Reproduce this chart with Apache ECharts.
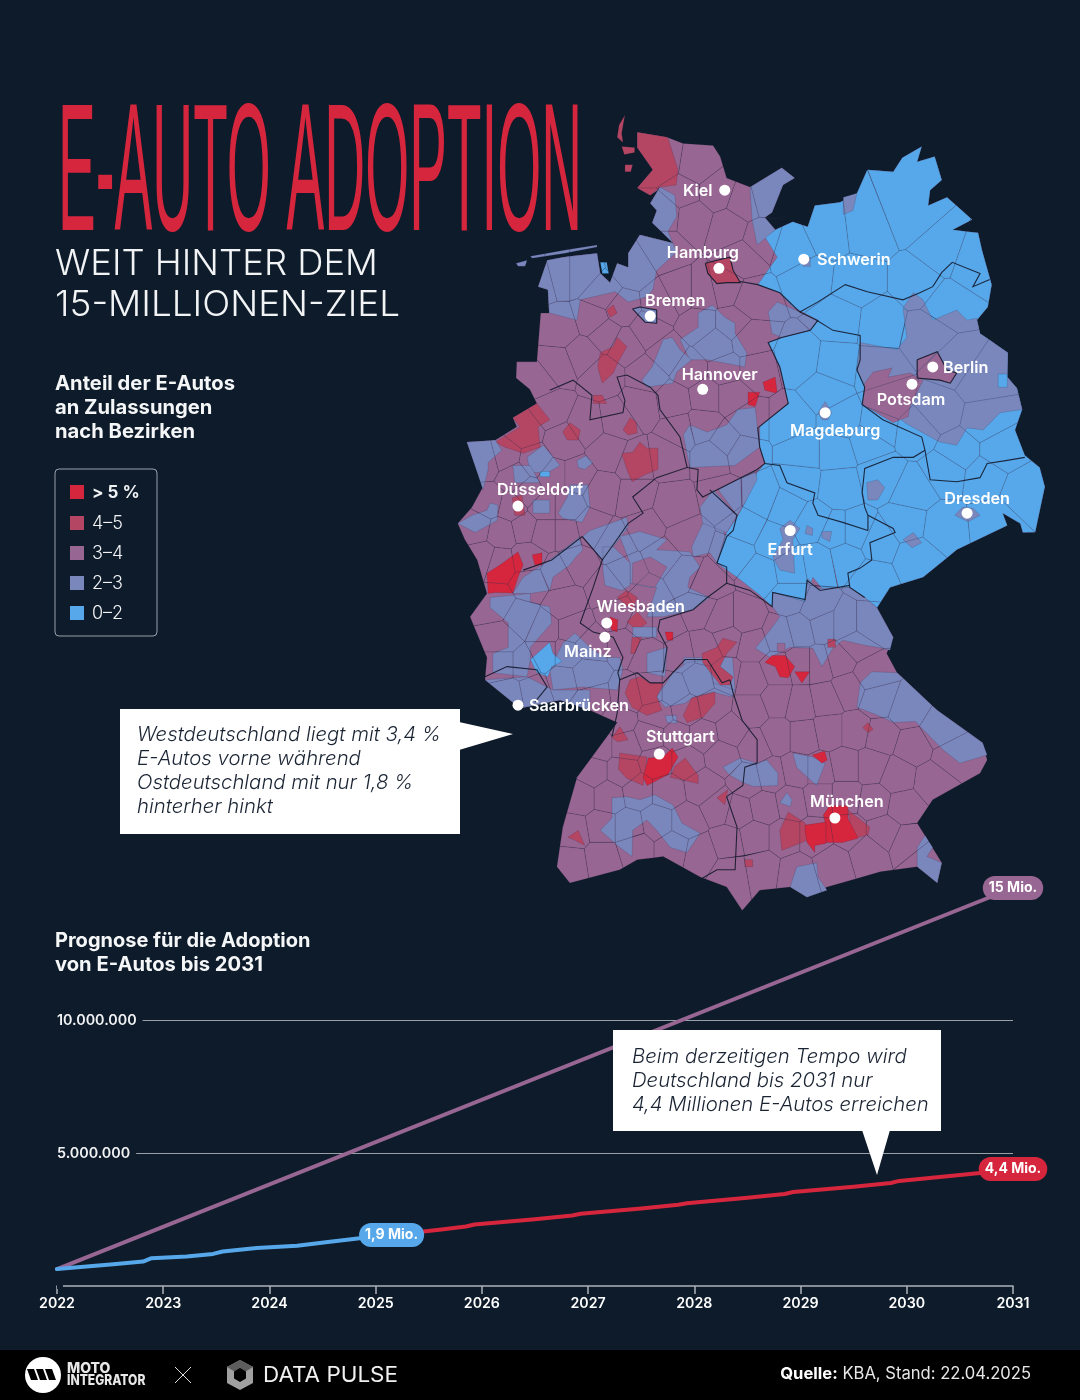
<!DOCTYPE html>
<html>
<head>
<meta charset="utf-8">
<style>html,body{margin:0;background:#0d1b2a}#c{width:1080px;height:1400px}</style>
<script src="https://cdn.jsdelivr.net/npm/echarts@6/dist/echarts.min.js"></script>
</head>
<body>
<div id="c"></div>
<script>
// Farben der Klassen (Legende und Karte)
const klassenFarben = ['#d6263d', '#b54663', '#986692', '#7a87bd', '#56a8ea'];
const klassenNamen = ['> 5 %', '4–5', '3–4', '2–3', '0–2'];

// Prognose, Werte in Mio. aus dem Bild gelesen
const jahreIst = [2022, 2022.53, 2022.81, 2022.89, 2023.22, 2023.47, 2023.56, 2023.88, 2024.26, 2024.57, 2024.85, 2025.15];
const werteIst = [0.64, 0.82, 0.92, 1.05, 1.11, 1.21, 1.30, 1.43, 1.52, 1.67, 1.80, 1.92];
const jahrePrognose = [2025.15, 2025.6, 2025.85, 2025.93, 2026.5, 2026.85, 2026.93, 2027.5, 2027.85, 2027.93, 2028.5, 2028.85, 2028.93, 2029.5, 2029.85, 2029.93, 2030.88, 2031];
const wertePrognose = [1.92, 2.12, 2.24, 2.32, 2.52, 2.66, 2.72, 2.92, 3.06, 3.12, 3.33, 3.47, 3.54, 3.74, 3.88, 3.96, 4.33, 4.41];
const jahreZiel = [2022, 2031];
const werteZiel = [0.64, 15];
const yTicks = {5000000: '5.000.000', 10000000: '10.000.000'};

// Städte: Lon/Lat wie auf der Karte
const staedte = ['Kiel', 'Hamburg', 'Schwerin', 'Bremen', 'Hannover', 'Berlin', 'Potsdam', 'Magdeburg', 'Düsseldorf', 'Dresden', 'Erfurt', 'Wiesbaden', 'Mainz', 'Saarbrücken', 'Stuttgart', 'München'];
const staedteLon = [10.19, 10.10, 11.41, 9.04, 9.85, 13.40, 13.08, 11.74, 7.0, 13.93, 11.20, 8.37, 8.34, 7.0, 9.18, 11.89];
const staedteLat = [54.32, 53.55, 53.64, 53.08, 52.36, 52.58, 52.41, 52.13, 51.21, 51.14, 50.97, 50.06, 49.92, 49.25, 48.77, 48.14];
const labelVersatz = [[-27, 1], [-16, -15], [50, 1], [25, -15], [17, -14], [33, 1], [-1, 16], [10, 18], [22, -16], [10, -14], [0, 20], [34, -16], [-17, 15], [61, 1], [21, -17], [12, -16]];

// Umriss Deutschland, Lon/Lat-Paare
const umriss = [8.84,54.89, 9.30,54.84, 9.55,54.78, 10.01,54.76, 10.12,54.65, 10.22,54.44, 10.58,54.35, 11.07,54.54, 11.27,54.44, 11.09,54.37, 10.92,54.10, 10.81,54.05, 10.97,53.93, 11.24,54.01, 11.47,53.96, 11.58,54.17, 11.97,54.20, 12.23,54.29, 12.39,54.52, 12.79,54.50, 12.93,54.64, 13.23,54.75, 13.16,54.60, 13.43,54.65, 13.54,54.42, 13.36,54.32, 13.33,54.17, 13.62,54.25, 14.01,54.03, 13.71,53.93, 14.10,53.90, 14.16,53.73, 14.31,53.39, 14.25,53.17, 14.08,53.04, 14.13,52.91, 14.56,52.72, 14.55,52.48, 14.70,52.37, 14.78,52.16, 14.67,51.96, 14.82,51.71, 15.05,51.59, 15.13,51.40, 14.98,50.95, 14.79,50.95, 14.75,51.04, 14.48,51.14, 14.55,51.02, 13.77,50.78, 13.25,50.51, 12.74,50.41, 12.54,50.21,
  12.79,49.92, 12.69,49.76, 12.85,49.57, 13.47,49.20, 14.17,48.88, 14.24,48.71, 14.13,48.58, 13.40,48.32, 13.16,48.09, 13.54,47.70, 13.47,47.50, 13.16,47.66, 12.59,47.61, 11.77,47.46, 11.46,47.36, 11.20,47.46, 10.73,47.43, 10.46,47.23, 10.22,47.46, 9.81,47.56, 9.24,47.76, 8.84,47.73, 8.57,47.63, 7.80,47.50, 7.60,47.66, 7.69,48.05, 7.91,48.54, 8.37,48.94, 8.53,49.08, 8.11,49.20, 7.65,49.30, 7.03,49.22, 6.49,49.50, 6.52,49.72, 6.26,50.12, 6.52,50.35, 6.37,50.68, 6.18,50.88, 6.07,51.04, 6.29,51.20, 6.46,51.40, 6.21,51.84, 6.65,51.86, 6.98,51.99, 6.92,52.08, 7.29,52.22, 7.18,52.36, 6.97,52.47, 6.98,52.63, 7.29,52.63, 7.35,53.11, 7.48,53.11, 7.46,53.34, 7.31,53.37, 7.45,53.63, 7.69,53.66, 8.22,53.70, 8.27,53.50, 8.42,53.41, 8.53,53.60, 8.70,53.56, 8.70,53.70, 8.88,53.88, 9.39,53.80, 9.07,54.00, 9.14,54.12, 9.04,54.19, 9.19,54.35, 9.04,54.27, 8.84,54.34, 9.08,54.52, 8.84,54.74];

// Ostdeutschland in 0-2: Küste plus Innengrenze
const ostGrenze = [12.35,50.31, 12.12,50.41, 11.69,50.40, 11.55,50.51, 11.43,50.27, 10.93,50.36, 10.93,50.22, 10.70,50.35, 10.38,50.51, 10.07,50.65, 10.22,50.95, 10.38,51.10, 10.50,51.24, 10.69,51.54, 10.81,51.63, 10.73,51.79, 10.73,51.99, 11.17,52.22, 11.04,52.58, 10.86,52.82, 11.07,52.87, 11.51,52.94, 11.63,53.04, 11.24,53.17, 11.04,53.31, 10.70,53.39, 11.00,53.66, 10.81,53.86];

// Flächen gleicher Klasse: [Anteil in %, Umriss], spätere liegen oben
const flaechenNord = [
  [3.4, umriss],
  [1.6, umriss.slice(24, 106).concat(ostGrenze)],
  [2.6, [7.48,53.11, 7.46,53.34, 7.31,53.37, 7.45,53.63, 7.69,53.66, 8.22,53.70, 8.27,53.50, 8.42,53.41, 8.53,53.60, 8.70,53.56, 8.70,53.70, 8.88,53.88, 9.39,53.80, 9.45,53.71, 9.14,53.53, 9.08,53.34, 8.99,53.27, 8.70,53.22, 8.50,53.32, 7.96,53.24, 7.91,53.04, 7.49,53.11]],
  [1.6, [8.27,53.61, 8.37,53.61, 8.40,53.50, 8.30,53.50]],
  [2.6, [9.19,54.35, 9.42,54.27, 9.45,54.06, 9.31,53.91, 9.39,53.80, 9.07,54.00, 9.14,54.12, 9.04,54.19]],
  [4.4, [8.84,54.89, 9.31,54.84, 9.47,54.52, 9.44,54.37, 9.19,54.35, 9.04,54.27, 8.84,54.34, 9.08,54.52, 8.84,54.74]],
  [4.4, [8.65,55.06, 8.56,54.96, 8.53,54.84, 8.62,54.79, 8.60,54.88]],
  [4.4, [8.60,54.75, 8.80,54.74, 8.80,54.69, 8.64,54.67]],
  [4.4, [8.65,54.57, 8.77,54.57, 8.74,54.50, 8.65,54.50]],
  [2.6, [6.97,53.60, 7.14,53.63, 7.11,53.57, 7.00,53.57]],
  [2.6, [7.19,53.67, 7.73,53.73, 8.22,53.78, 8.22,53.76, 7.73,53.70, 7.22,53.65]],
  [2.6, [10.58,54.35, 11.07,54.54, 11.27,54.44, 11.09,54.37, 10.92,54.10, 10.81,54.05, 10.97,53.93, 10.69,53.78, 10.61,54.03]],
  [2.6, [12.02,54.25, 12.23,54.29, 12.17,54.12, 12.02,54.08]],
  [2.6, [11.35,53.65, 11.51,53.66, 11.51,53.57, 11.40,53.57]],
  [2.6, [10.86,53.12, 11.00,53.22, 11.35,53.12, 11.63,53.04, 11.51,52.94, 11.07,52.87, 10.92,52.91]],
  [4.4, [9.89,53.60, 10.07,53.63, 10.27,53.66, 10.32,53.53, 10.43,53.41, 10.22,53.41, 10.07,53.40, 9.93,53.50]],
  [2.6, [8.88,53.17, 9.14,53.14, 9.14,53.01, 8.96,53.02, 8.77,53.15]],
  [2.6, [9.50,52.85, 9.78,52.97, 9.78,53.11, 10.0,53.19, 10.19,53.07, 10.35,53.01, 10.35,52.91, 10.53,52.72, 10.50,52.58, 9.92,52.65, 9.65,52.65]],
  [2.6, [9.07,52.58, 9.24,52.85, 9.38,52.87, 9.50,52.75, 9.68,52.65, 9.45,52.53, 9.39,52.42, 8.99,52.38, 8.91,52.45]],
  [4.4, [8.37,53.14, 8.47,53.19, 8.53,53.11, 8.42,53.07]],
  [4.4, [8.27,52.72, 8.47,52.78, 8.53,52.87, 8.68,52.78, 8.54,52.62, 8.47,52.52, 8.30,52.42, 8.23,52.58]],
  [6.0, [10.78,52.43, 10.97,52.48, 11.0,52.32, 10.81,52.35]],
  [6.0, [10.55,52.33, 10.73,52.33, 10.66,52.19, 10.55,52.21]],
  [2.6, [9.55,51.91, 9.65,52.01, 9.92,51.94, 10.22,52.01, 10.39,52.16, 10.66,52.18, 10.73,51.79, 10.35,51.61, 9.65,51.59]]
];
const flaechenOst = [
  [2.6, [12.94,53.16, 13.10,53.31, 13.25,53.24, 13.40,53.04, 13.77,53.14, 13.93,53.04, 14.08,53.06, 14.13,52.91, 14.56,52.72, 14.55,52.48, 14.70,52.37, 14.78,52.16, 14.44,52.13, 14.18,51.96, 13.93,51.98, 13.77,51.81, 13.51,51.84, 13.25,51.93, 12.97,52.03, 12.35,52.40, 12.23,52.55, 12.28,52.82, 12.85,52.75, 13.00,52.87]],
  [1.6, [14.41,52.51, 14.55,52.51, 14.55,52.38, 14.41,52.38]],
  [3.4, [12.35,52.42, 12.48,52.53, 12.77,52.57, 12.71,52.48, 13.05,52.52, 13.25,52.45, 13.05,52.19, 13.02,52.09, 12.79,52.03, 12.32,52.21]],
  [3.4, [13.16,52.65, 13.47,52.73, 13.62,52.55, 13.77,52.52, 13.67,52.42, 13.51,52.45, 13.16,52.47]],
  [2.6, [11.63,52.13, 11.74,52.24, 11.84,52.13, 11.78,52.06, 11.69,52.06]],
  [2.6, [13.74,51.12, 13.86,51.20, 14.02,51.19, 14.13,51.12, 13.93,51.05]],
  [2.6, [12.38,51.44, 12.55,51.47, 12.66,51.39, 12.55,51.27, 12.40,51.27]],
  [2.6, [12.94,50.88, 13.10,50.95, 13.23,50.85, 13.08,50.80]],
  [2.6, [11.04,50.99, 11.20,51.07, 11.35,50.99, 11.24,50.88, 11.27,50.55, 11.04,50.58, 10.93,50.71, 11.09,50.88]],
  [2.6, [11.46,51.02, 11.55,50.99, 11.54,50.92, 11.43,50.94]],
  [2.6, [11.69,50.96, 11.84,50.96, 11.81,50.86, 11.69,50.90]]
];
const flaechenWest = [
  [4.4, [6.65,51.84, 7.03,51.99, 6.92,52.08, 7.29,52.22, 7.49,52.06, 7.31,51.99, 7.34,51.79, 7.08,51.73, 6.80,51.79]],
  [2.6, [6.21,51.84, 6.65,51.86, 6.75,51.76, 6.54,51.64, 6.54,51.57, 6.46,51.37, 6.37,51.54]],
  [2.6, [7.14,51.69, 7.39,51.81, 7.65,51.61, 7.46,51.54, 7.19,51.54]],
  [2.6, [6.92,51.61, 7.19,51.61, 7.34,51.44, 6.95,51.44]],
  [1.6, [7.34,51.55, 7.49,51.55, 7.49,51.50, 7.34,51.50]],
  [2.6, [7.91,51.66, 8.06,51.71, 8.16,51.64, 8.03,51.57, 7.93,51.59]],
  [2.6, [7.62,51.14, 7.76,51.30, 7.80,51.42, 8.08,51.42, 8.11,51.20, 7.99,51.05, 7.69,51.09]],
  [2.6, [7.23,51.27, 7.49,51.27, 7.49,51.14, 7.23,51.14]],
  [4.4, [6.91,51.29, 7.06,51.32, 7.11,51.12, 6.95,51.12]],
  [2.6, [6.07,51.04, 6.29,51.12, 6.52,51.17, 6.57,51.24, 6.69,51.22, 6.68,51.07, 6.34,50.95]],
  [6.0, [6.52,50.55, 6.72,50.63, 7.0,50.76, 7.08,50.63, 7.0,50.51, 6.92,50.35, 6.65,50.36, 6.54,50.35]],
  [6.0, [7.22,50.73, 7.37,50.75, 7.37,50.63, 7.26,50.63]],
  [4.4, [7.69,51.94, 7.80,52.03, 7.96,51.96, 7.93,51.86, 7.76,51.86]],
  [4.4, [8.62,51.96, 8.73,52.08, 8.82,52.04, 8.84,51.93, 8.70,51.91]],
  [4.4, [8.60,51.73, 8.77,51.74, 8.88,51.84, 8.99,51.78, 9.16,51.78, 9.16,51.57, 8.96,51.52, 8.76,51.45, 8.68,51.57]],
  [4.4, [8.16,52.30, 8.30,52.30, 8.37,52.22, 8.16,52.22]],
  [2.6, [8.11,50.97, 8.42,51.04, 8.68,51.10, 8.70,51.00, 8.47,50.81, 8.30,50.68, 8.00,50.91]],
  [2.6, [8.57,50.91, 8.88,50.96, 9.30,50.88, 9.14,50.78, 9.65,50.76, 9.81,50.61, 9.65,50.51, 9.62,50.41, 9.96,50.31, 9.70,50.19, 9.24,50.12, 8.99,50.12, 9.14,50.41, 9.04,50.41, 8.73,50.45, 8.73,50.65]],
  [2.6, [8.31,50.81, 8.47,50.81, 8.73,50.65, 8.73,50.43, 8.60,50.38, 8.34,50.43, 8.31,50.58]],
  [3.4, [8.77,50.65, 9.04,50.71, 9.30,50.61, 9.11,50.41, 8.76,50.45]],
  [2.6, [9.68,50.81, 9.85,51.04, 10.16,51.04, 10.19,50.91, 10.07,50.65, 9.96,50.75, 9.70,50.71]],
  [2.6, [9.81,51.20, 10.01,51.37, 10.38,51.12, 10.22,50.95, 9.85,51.04]],
  [2.6, [10.09,51.37, 10.47,51.50, 10.66,51.55, 10.69,51.47, 10.50,51.24, 10.38,51.12]],
  [2.6, [6.92,50.35, 7.08,50.51, 7.49,50.68, 7.96,50.91, 8.0,50.78, 7.88,50.70, 7.80,50.63, 7.54,50.51, 7.49,50.38, 7.19,50.35]],
  [2.6, [6.57,50.31, 7.19,50.35, 7.19,50.26, 7.49,50.22, 7.52,50.06, 7.19,49.82, 7.19,49.70, 7.14,49.53, 6.61,49.57, 6.61,49.76, 6.85,49.82, 6.85,50.06, 6.57,50.21]],
  [2.6, [7.69,49.86, 7.88,49.96, 8.16,49.79, 8.37,49.72, 8.57,49.72, 8.62,49.60, 8.53,49.40, 8.0,49.43, 7.54,49.40, 7.49,49.60]],
  [2.6, [6.49,49.50, 7.14,49.53, 7.54,49.40, 8.11,49.40, 8.11,49.20, 7.65,49.30, 7.03,49.22]],
  [1.6, [7.19,49.70, 7.49,49.87, 7.54,49.76, 7.68,49.68, 7.52,49.63, 7.46,49.53, 7.29,49.57]],
  [4.4, [8.53,50.31, 8.68,50.38, 8.84,50.31, 8.76,50.19]],
  [4.4, [8.68,50.07, 8.84,50.17, 8.99,50.06, 8.84,49.99]],
  [6.0, [8.42,50.12, 8.54,50.09, 8.53,49.97, 8.44,49.99]],
  [2.6, [8.77,50.02, 9.14,50.02, 9.14,49.92, 8.77,49.92]],
  [6.0, [9.27,49.97, 9.39,49.97, 9.39,49.89, 9.30,49.89]],
  [4.4, [8.76,49.92, 8.91,49.92, 8.80,49.76, 8.74,49.76]],
  [2.6, [8.99,49.76, 9.30,49.82, 9.27,49.53, 8.99,49.57]]
];
const flaechenSued = [
  [2.6, [9.55,49.72, 10.32,49.72, 10.35,49.40, 9.55,49.40]],
  [2.6, [9.14,49.33, 9.39,49.57, 9.61,49.67, 9.92,49.70, 10.01,49.47, 10.35,49.40, 10.30,49.33, 10.01,49.38, 9.70,49.33, 9.58,49.27, 9.27,49.23]],
  [4.4, [9.84,49.76, 10.07,49.82, 10.16,49.91, 10.38,49.87, 10.22,49.76, 10.12,49.63, 10.32,49.53, 10.27,49.45, 10.12,49.45, 9.85,49.67]],
  [4.4, [8.65,49.37, 8.73,49.50, 8.88,49.53, 9.04,49.47, 9.24,49.47, 9.14,49.33, 9.22,49.20, 8.99,49.15, 8.76,49.23]],
  [4.4, [9.68,49.32, 10.04,49.38, 10.04,49.27, 9.85,49.13, 9.61,49.08, 9.55,49.15]],
  [2.6, [9.27,49.15, 9.45,49.15, 9.45,49.07, 9.30,49.08]],
  [4.4, [8.45,48.93, 8.57,49.04, 8.70,48.91, 8.54,48.89]],
  [4.4, [8.57,48.78, 8.99,48.74, 8.93,48.46, 8.68,48.53, 8.55,48.62]],
  [4.4, [9.42,48.65, 9.58,48.73, 9.78,48.56, 9.78,48.48, 9.35,48.54]],
  [6.0, [9.01,48.73, 9.24,48.74, 9.38,48.83, 9.47,48.74, 9.38,48.64, 9.31,48.56, 8.99,48.46, 8.93,48.54]],
  [2.6, [10.16,48.64, 10.43,48.73, 10.69,48.68, 10.84,48.71, 11.01,48.58, 11.01,48.46, 10.63,48.45, 10.47,48.49, 10.27,48.56]],
  [2.6, [8.45,48.34, 8.68,48.35, 8.88,48.32, 9.11,48.37, 9.39,48.27, 9.53,48.09, 9.81,47.99, 9.61,47.80, 9.35,47.85, 9.14,48.02, 8.99,48.12, 8.77,48.02, 8.76,47.76, 8.57,47.85, 8.27,48.02, 8.45,48.14]],
  [4.4, [7.77,47.95, 7.93,48.02, 8.03,47.87, 7.88,47.92]],
  [4.4, [10.07,48.34, 10.24,48.42, 10.19,48.27]],
  [2.6, [11.47,50.50, 11.63,50.40, 12.12,50.41, 12.35,50.31, 12.54,50.21, 12.79,49.92, 12.74,49.79, 12.35,49.84, 12.01,49.89, 11.86,49.81, 11.69,49.63, 11.55,49.81, 11.20,49.82, 10.89,49.72, 10.66,49.81, 10.89,49.99, 11.04,50.12, 10.93,50.22, 10.93,50.36, 11.43,50.27]],
  [4.4, [11.78,49.90, 11.90,49.90, 11.90,49.82, 11.78,49.82]],
  [3.4, [11.00,49.86, 11.12,49.86, 11.12,49.78, 11.00,49.78]],
  [2.6, [12.28,49.47, 12.46,49.58, 12.85,49.57, 13.47,49.20, 14.17,48.88, 14.24,48.76, 13.82,48.68, 13.56,48.81, 13.13,49.09, 12.79,49.08, 12.62,49.13, 12.43,49.18, 12.23,49.23]],
  [2.6, [11.30,47.66, 11.61,47.70, 11.63,47.56, 11.77,47.43, 11.46,47.36, 11.20,47.46]],
  [2.6, [13.28,47.97, 13.40,47.85, 13.31,47.76, 13.54,47.70, 13.47,47.50, 13.16,47.66, 13.16,47.85]],
  [2.6, [11.24,48.78, 11.55,48.74, 11.74,48.68, 11.61,48.46, 11.43,48.56, 11.30,48.64]],
  [6.0, [11.54,48.76, 11.74,48.80, 11.77,48.71, 11.69,48.68]],
  [4.4, [11.17,48.20, 11.43,48.09, 11.46,47.92, 11.07,47.82, 11.04,48.02]],
  [4.4, [12.09,48.22, 12.43,48.05, 12.40,47.97, 12.17,47.94]],
  [6.0, [11.71,48.17, 11.81,48.26, 12.09,48.26, 12.09,48.14, 12.25,47.94, 12.01,47.90, 11.75,47.90, 11.75,48.07]],
  [6.0, [11.43,48.07, 11.75,48.10, 11.75,47.89, 11.58,47.87, 11.58,47.80, 11.46,47.90, 11.43,48.00]],
  [4.4, [12.32,49.03, 12.40,49.08, 12.48,49.01, 12.40,48.98]],
  [4.4, [10.50,47.73, 10.62,47.73, 10.62,47.66, 10.50,47.66]],
  [2.6, [11.04,48.29, 11.15,48.39, 11.23,48.32, 11.20,48.25]],
  [6.0, [10.81,49.67, 10.92,49.74, 11.12,49.74, 11.27,49.63, 11.17,49.52, 11.04,49.53, 10.97,49.63]],
  [6.0, [11.27,49.58, 11.51,49.58, 11.38,49.47]]
];

// ungefähre Kreismitten, nur für die feinen Kreisgrenzen
const kreisMitten = [
  9.25,54.6, 9.75,54.55, 9.55,54.3, 10.05,54.3, 10.5,54.2, 9.7,54.05, 10.25,53.95, 9.25,54.08, 10.8,54.25, 10.75,53.85, 10.45,53.65,
  9.25,53.75, 8.75,53.55, 8.3,53.3, 7.65,53.5, 7.35,53.45, 7.95,53.5, 8.15,53.05, 7.65,52.95, 7.6,52.6, 7.3,52.45, 8.0,52.7, 8.35,52.9, 8.6,53.15, 8.65,52.8, 8.3,52.5, 9.0,52.95, 9.5,53.3, 9.2,53.2, 9.85,53.3, 10.2,53.35, 10.6,53.25, 9.8,53.0, 10.3,53.0, 10.05,52.8, 10.55,52.85, 9.3,52.7, 9.0,52.5, 9.65,52.55, 10.2,52.55, 10.65,52.55, 9.4,52.25, 9.9,52.3, 10.3,52.3, 10.55,52.05, 9.85,52.0, 10.2,51.85, 9.5,51.95, 10.0,51.7, 10.45,51.75,
  6.8,51.7, 7.1,51.95, 7.5,52.15, 7.7,51.85, 8.05,52.0, 8.55,52.05, 8.9,52.2, 8.4,51.75, 8.8,51.65, 9.3,51.7, 6.5,51.65, 6.95,51.5, 7.25,51.65, 7.55,51.5, 7.9,51.5, 8.3,51.35, 8.8,51.3, 6.55,51.25, 6.9,51.2, 7.15,51.35, 7.4,51.2, 7.75,51.2, 8.1,51.0, 6.35,51.0, 6.75,50.95, 7.1,51.0, 7.4,50.95, 7.75,50.95, 6.7,50.65, 7.15,50.7, 6.45,50.7,
  8.5,50.85, 8.95,51.0, 9.4,51.2, 9.6,50.9, 9.25,50.7, 8.7,50.55, 9.0,50.35, 9.55,50.55, 9.9,50.45, 8.4,50.4, 8.55,50.15, 8.9,50.05, 9.25,50.05, 8.65,49.85, 9.0,49.75,
  6.65,50.25, 7.2,50.45, 7.6,50.55, 7.9,50.65, 7.7,50.25, 7.05,50.1, 7.4,50.0, 6.75,49.9, 7.85,50.0, 6.75,49.65, 7.1,49.65, 7.4,49.75, 7.75,49.75, 8.1,49.85, 6.85,49.35, 7.25,49.4, 7.7,49.5, 8.05,49.55, 8.15,49.3,
  8.7,49.35, 9.05,49.4, 9.4,49.4, 9.8,49.5, 8.55,49.1, 9.15,49.15, 9.6,49.2, 10.0,49.25, 8.25,48.85, 8.65,48.85, 9.05,48.95, 9.45,48.95, 9.85,48.95, 8.15,48.6, 8.6,48.6, 9.15,48.7, 9.6,48.7, 10.15,48.75, 7.95,48.35, 8.4,48.35, 8.85,48.4, 9.3,48.4, 9.85,48.45, 10.1,48.25, 7.85,48.0, 8.3,48.05, 8.7,48.05, 9.15,48.1, 9.6,48.1, 7.8,47.7, 8.3,47.75, 8.8,47.85, 9.4,47.85, 9.8,47.8,
  9.5,49.75, 9.9,49.8, 10.15,50.1, 10.5,50.1, 9.8,50.2, 10.25,49.9, 10.6,49.85, 10.2,49.55, 10.6,49.5, 11.0,49.6, 11.35,49.65, 11.65,49.65, 11.95,49.7, 12.2,49.85, 12.45,49.55, 11.05,49.95, 11.35,50.0, 11.7,50.05, 12.05,50.05, 12.4,50.05, 11.2,50.3, 11.6,50.2, 10.6,49.2, 11.0,49.3, 11.35,49.25, 11.75,49.3, 12.1,49.4, 12.55,49.3, 13.0,49.2, 13.5,49.0, 10.3,49.0, 10.65,48.85, 11.0,48.95, 11.4,48.95, 11.8,49.0, 12.2,49.0, 12.6,48.95, 13.1,48.85, 13.7,48.75, 10.55,48.5, 10.9,48.55, 11.3,48.6, 11.65,48.6, 12.05,48.65, 12.45,48.65, 12.85,48.55, 13.4,48.5, 10.4,48.2, 10.8,48.25, 11.2,48.3, 11.65,48.35, 12.05,48.35, 12.5,48.3, 12.95,48.25, 10.25,47.9, 10.65,47.95, 11.1,47.95, 11.6,47.95, 12.1,48.0, 12.65,48.0, 13.0,47.9, 10.3,47.6, 10.75,47.65, 11.3,47.6, 11.85,47.7, 12.4,47.8, 13.25,47.7,
  11.25,53.75, 11.75,53.9, 12.4,53.95, 12.2,53.4, 13.2,53.4, 13.0,54.1, 13.55,53.7, 14.0,53.6, 11.5,53.45,
  11.95,53.05, 12.6,53.0, 13.6,53.2, 13.3,52.9, 12.55,52.55, 13.75,52.6, 14.1,52.45, 14.2,52.05, 13.5,52.15, 12.7,52.25, 13.15,51.95, 12.55,52.0, 13.8,51.75, 14.45,51.75,
  11.35,52.65, 11.9,52.6, 11.75,52.35, 11.2,52.05, 12.0,52.05, 12.4,51.85, 11.4,51.75, 11.9,51.75, 11.35,51.45, 11.95,51.4,
  12.6,51.5, 13.1,51.35, 13.6,51.55, 14.2,51.5, 14.8,51.35, 14.35,51.05, 13.55,51.0, 13.0,51.05, 13.15,50.7, 12.55,50.85, 12.45,50.5,
  10.15,51.3, 10.75,51.3, 11.15,51.2, 10.5,51.0, 10.95,50.85, 11.55,51.05, 11.9,50.95, 12.2,50.95, 10.35,50.75, 10.75,50.55, 11.2,50.6, 11.65,50.65, 12.05,50.7
];

// Landesgrenzen
const landesgrenzen = [
  [7.49,52.35, 7.85,52.45, 8.14,52.30, 8.11,52.06, 8.62,52.13, 8.65,52.25, 8.53,52.48, 8.68,52.50, 9.04,52.38, 9.16,52.30, 9.19,52.16, 9.50,51.89, 9.61,51.59, 9.14,51.49, 8.77,51.30, 8.93,51.14, 8.70,51.04, 8.47,50.83, 8.30,50.68, 7.99,50.91, 7.52,50.68, 7.08,50.58],
  [9.61,51.59, 9.78,51.57, 9.76,51.37, 9.85,51.30, 10.47,51.50, 10.69,51.57, 10.81,51.63],
  [9.96,51.37, 10.38,51.12, 10.32,50.97, 10.22,50.91, 10.07,50.65, 10.22,50.61, 10.22,50.45, 9.92,50.31, 9.70,50.19, 9.19,50.09, 9.16,49.99, 9.30,49.82, 9.24,49.57],
  [8.30,50.68, 8.16,50.41, 7.96,50.06, 8.16,49.97, 8.47,49.92, 8.62,49.72, 8.54,49.57],
  [6.49,49.53, 6.83,49.63, 7.29,49.60, 7.45,49.43, 7.26,49.28],
  [8.54,49.57, 8.57,49.50, 8.84,49.57, 9.04,49.47, 9.24,49.47, 9.58,49.70, 9.92,49.70, 10.15,49.47, 10.27,49.50],
  [8.57,49.50, 8.53,49.17, 8.45,48.94],
  [10.27,49.50, 10.32,49.37, 10.46,49.10, 10.69,48.91, 10.69,48.68, 10.50,48.64, 10.47,48.46, 10.22,48.35, 10.38,48.05, 10.35,47.63, 10.07,47.63, 9.85,47.55],
  [11.35,53.12, 11.61,53.04, 11.86,52.94, 12.28,52.89, 12.28,52.65, 12.23,52.55, 12.35,52.38, 12.31,52.21, 12.63,52.06, 13.23,51.89, 13.28,51.76, 13.10,51.69, 12.79,51.69, 12.35,51.58, 12.31,51.34, 12.35,51.20, 12.40,51.12, 12.40,50.97],
  [12.40,51.12, 12.79,50.99, 12.82,50.95, 12.43,50.85, 12.46,50.68, 12.28,50.60, 12.09,50.55, 12.12,50.41, 12.35,50.31],
  [12.40,50.97, 12.01,51.05, 11.63,51.12, 11.55,51.24, 11.58,51.34, 11.15,51.44, 11.04,51.61, 10.81,51.63, 10.73,51.79, 10.70,51.98, 11.17,52.22, 11.04,52.58, 10.86,52.82, 11.07,52.87, 11.51,52.94, 11.63,53.04],
  [12.12,50.43, 11.66,50.38, 11.46,50.48, 11.43,50.29, 10.93,50.36, 10.92,50.22, 10.58,50.38, 10.22,50.45],
  [11.35,53.12, 11.63,53.22, 12.05,53.39, 12.39,53.32, 12.94,53.24, 13.20,53.31, 13.40,53.37, 13.54,53.51, 13.70,53.61, 14.13,53.50, 14.02,53.37, 14.28,53.44],
  [13.28,51.76, 13.36,51.47, 13.77,51.45, 14.13,51.49, 14.24,51.63, 14.55,51.66, 14.82,51.69],
  [10.43,53.42, 10.70,53.39, 11.04,53.31, 11.35,53.12],
  [9.89,53.60, 10.07,53.63, 10.27,53.66, 10.32,53.53, 10.43,53.41, 10.22,53.41, 10.07,53.40, 9.93,53.50, 9.89,53.60],
  [8.88,53.17, 9.14,53.14, 9.14,53.01, 8.96,53.02, 8.77,53.15, 8.88,53.17],
  [13.16,52.65, 13.47,52.73, 13.62,52.55, 13.77,52.52, 13.67,52.42, 13.51,52.45, 13.16,52.47, 13.16,52.65]
];

function punkte(flach) {
  const p = [];
  for (let i = 0; i < flach.length; i += 2) p.push([flach[i], flach[i + 1]]);
  return p;
}

// Fläche mit den Mittelsenkrechten der Kreismitten zerschneiden
const seeds = punkte(kreisMitten);
const K = 0.407; // Breitengrad ist auf der Karte länger als Längengrad
function schneide(poly, s, t) {
  const dx = (t[0] - s[0]) * K, dy = t[1] - s[1];
  const mx = (s[0] + t[0]) / 2, my = (s[1] + t[1]) / 2;
  const seite = p => (p[0] - mx) * dx + (p[1] - my) * dy;
  const out = [];
  for (let i = 0; i < poly.length; i++) {
    const a = poly[i], b = poly[(i + 1) % poly.length];
    const sa = seite(a), sb = seite(b);
    if (sa <= 0) out.push(a);
    if ((sa < 0 && sb > 0) || (sa > 0 && sb < 0)) {
      const f = sa / (sa - sb);
      out.push([a[0] + (b[0] - a[0]) * f, a[1] + (b[1] - a[1]) * f]);
    }
  }
  return out;
}
function flaecheGross(poly) {
  let f = 0;
  for (let i = 0; i < poly.length; i++) {
    const a = poly[i], b = poly[(i + 1) % poly.length];
    f += a[0] * b[1] - b[0] * a[1];
  }
  return Math.abs(f) > 0.0005;
}

const features = [], kartenDaten = [];
flaechenNord.concat(flaechenOst, flaechenWest, flaechenSued).forEach(function (fl, n) {
  const poly0 = punkte(fl[1]);
  seeds.forEach(function (s, i) {
    let poly = poly0;
    for (let j = 0; j < seeds.length && poly.length > 2; j++) {
      if (j !== i) poly = schneide(poly, s, seeds[j]);
    }
    if (poly.length < 3 || !flaecheGross(poly)) return;
    const name = 'f' + n + 'k' + i;
    const ring = poly.concat([poly[0]]);
    features.push({type: 'Feature', properties: {name: name}, geometry: {type: 'Polygon', coordinates: [ring]}});
    kartenDaten.push({name: name, value: fl[0]});
  });
});
echarts.registerMap('de', {type: 'FeatureCollection', features: features});

const BG = '#0d1b2a';
const SCHRIFT = 'Inter, "Noto Sans", sans-serif';
function txt(text, x, y, font, fill, extra) {
  return Object.assign({type: 'text', x: x, y: y, z: 100, silent: true,
    style: {text: text, font: font, fill: fill, verticalAlign: 'middle', align: 'left'}}, extra || {});
}
function poly(points, fill, extra) {
  return Object.assign({type: 'polygon', z: 100, silent: true, shape: {points: points}, style: {fill: fill}}, extra || {});
}

const titel = txt('E-AUTO ADOPTION', 58, 180, '400 182px "Liberation Sans Narrow", "Liberation Sans", sans-serif', klassenFarben[0], {scaleX: 0.311});
titel.style.shadowColor = klassenFarben[0];
titel.style.shadowOffsetX = 6;
titel.style.shadowBlur = 0;

const grafik = [
  titel,
  txt('WEIT HINTER DEM', 55, 264, '300 36px ' + SCHRIFT, '#f2f3f5', {scaleX: 1.012}),
  txt('15-MILLIONEN-ZIEL', 55, 305, '300 36px ' + SCHRIFT, '#f2f3f5', {scaleX: 1.024}),
  txt('Anteil der E-Autos', 55, 384, '700 20px ' + SCHRIFT, '#f5f6f7', {scaleX: 1.01}),
  txt('an Zulassungen', 55, 408, '700 20px ' + SCHRIFT, '#f5f6f7', {scaleX: 1.01}),
  txt('nach Bezirken', 55, 432, '700 20px ' + SCHRIFT, '#f5f6f7', {scaleX: 1.01}),
  txt('Prognose für die Adoption', 55, 941, '700 20px ' + SCHRIFT, '#f5f6f7'),
  txt('von E-Autos bis 2031', 55, 965, '700 20px ' + SCHRIFT, '#f5f6f7', {scaleX: 1.008}),
  {type: 'rect', z: 100, silent: true, shape: {x: 55, y: 469, width: 102, height: 167, r: 4}, style: {fill: 'none', stroke: '#9aa2ab', lineWidth: 1}}
];
klassenNamen.forEach(function (name, i) {
  const y = [492, 523, 553, 583, 613][i];
  grafik.push({type: 'rect', z: 100, silent: true, shape: {x: 70, y: y - 7, width: 14, height: 14}, style: {fill: klassenFarben[i]}});
  grafik.push(txt(name, 92, y + 1, (i === 0 ? '700 17px ' : '300 18px ') + SCHRIFT, '#f2f3f5'));
});
// Hinweise
grafik.push({type: 'rect', z: 100, silent: true, shape: {x: 120, y: 709, width: 340, height: 125}, style: {fill: '#fff'}});
grafik.push(poly([[459, 722], [513, 734], [459, 750]], '#fff'));
['Westdeutschland liegt mit 3,4 %', 'E-Autos vorne während', 'Ostdeutschland mit nur 1,8 %', 'hinterher hinkt'].forEach(function (t, i) {
  grafik.push(txt(t, 137, 735 + i * 24, 'italic 300 20px ' + SCHRIFT, '#1a2433', {scaleX: 1.017}));
});
grafik.push({type: 'rect', z: 100, silent: true, shape: {x: 613, y: 1030, width: 328, height: 101}, style: {fill: '#fff'}});
grafik.push(poly([[862, 1130], [890, 1130], [877, 1175]], '#fff'));
['Beim derzeitigen Tempo wird', 'Deutschland bis 2031 nur', '4,4 Millionen E-Autos erreichen'].forEach(function (t, i) {
  grafik.push(txt(t, 632, 1057 + i * 24, 'italic 300 20px ' + SCHRIFT, '#1a2433', {scaleX: 1.017}));
});
// Fusszeile
grafik.push({type: 'rect', z: 90, silent: true, shape: {x: 0, y: 1350, width: 1080, height: 50}, style: {fill: '#000'}});
grafik.push({type: 'circle', z: 100, silent: true, shape: {cx: 43, cy: 1375, r: 18}, style: {fill: '#fff'}});
[[27, 1369], [36, 1369], [45, 1369]].forEach(function (p) {
  grafik.push(poly([[p[0], p[1]], [p[0] + 7, p[1]], [p[0] + 11, p[1] + 11], [p[0] + 4, p[1] + 11]], '#000'));
});
grafik.push(txt('MOTO', 67, 1369, '800 14px ' + SCHRIFT, '#e8e8e8'));
grafik.push(txt('INTEGRATOR', 67, 1381, '800 14px ' + SCHRIFT, '#e8e8e8', {scaleX: 0.86}));
grafik.push({type: 'line', z: 100, silent: true, shape: {x1: 175, y1: 1367, x2: 191, y2: 1383}, style: {stroke: '#ddd', lineWidth: 1}});
grafik.push({type: 'line', z: 100, silent: true, shape: {x1: 191, y1: 1367, x2: 175, y2: 1383}, style: {stroke: '#ddd', lineWidth: 1}});
grafik.push(poly([[240, 1360], [253, 1367], [253, 1383], [240, 1390], [227, 1383], [227, 1367]], '#a0a0a0'));
grafik.push(poly([[240, 1360], [253, 1367], [240, 1375], [227, 1367]], '#5d5d5d'));
grafik.push(poly([[240, 1368], [246, 1371.5], [246, 1378.5], [240, 1382], [234, 1378.5], [234, 1371.5]], '#000'));
grafik.push(txt('DATA PULSE', 263, 1375, '400 22px ' + SCHRIFT, '#f0f0f0', {scaleX: 1.02}));
grafik.push({type: 'text', x: 1031, y: 1374, z: 100, silent: true, style: {
  text: '{b|Quelle:} KBA, Stand: 22.04.2025', font: '400 16.6px ' + SCHRIFT, fill: '#e8e8e8', align: 'right', verticalAlign: 'middle',
  rich: {b: {font: '700 16.6px ' + SCHRIFT, fill: '#fff'}}
}});

const zip = (a, b) => a.map((v, i) => [v, b[i]]);
function linie(name, xs, ys, farbe, z) {
  return {type: 'line', name: name, data: zip(xs, ys), showSymbol: false, z: z, clip: false, silent: true,
    lineStyle: {color: farbe, width: 4, cap: 'round', join: 'round'}, itemStyle: {color: farbe}};
}
function pille(wert, farbe) {
  return {value: wert, itemStyle: {color: farbe, opacity: 1}, label: {backgroundColor: farbe}};
}

const chart = echarts.init(document.getElementById('c'), null, {renderer: 'canvas'});
chart.setOption({
  backgroundColor: BG,
  animation: false,
  textStyle: {fontFamily: SCHRIFT},
  graphic: grafik,
  geo: {
    map: 'de', silent: true, roam: false,
    boundingCoords: [[6, 55.1], [15.2, 47.2]],
    left: 453.2, top: 110.9, width: 596.2, height: 802.6,
    itemStyle: {areaColor: klassenFarben[2], borderColor: 'rgba(25,25,55,0.26)', borderWidth: 0.6}
  },
  visualMap: {type: 'piecewise', show: false, seriesIndex: 0, pieces: [
    {gt: 5, color: klassenFarben[0]}, {gt: 4, lte: 5, color: klassenFarben[1]}, {gt: 3, lte: 4, color: klassenFarben[2]},
    {gt: 2, lte: 3, color: klassenFarben[3]}, {lte: 2, color: klassenFarben[4]}
  ]},
  grid: {left: 57, right: 67, top: 888, bottom: 114},
  xAxis: {type: 'value', min: 2022, max: 2031, interval: 1, splitLine: {show: false},
    axisLine: {show: true, lineStyle: {color: '#aeb3ba', width: 1.5}},
    axisTick: {show: true, length: 8, lineStyle: {color: '#aeb3ba', width: 1.5}},
    axisLabel: {color: '#fff', fontWeight: 600, fontSize: 14.2, margin: 11, formatter: v => String(v)}},
  yAxis: {type: 'value', min: 0, max: 15000000, interval: 5000000,
    axisLine: {show: false}, axisTick: {show: false},
    splitLine: {show: true, showMinLine: false, showMaxLine: false, lineStyle: {color: '#9aa0a8', width: 1}},
    axisLabel: {inside: true, margin: 0, color: '#f2f3f5', fontWeight: 600, fontSize: 14.3, backgroundColor: BG, padding: [5, 6, 1, 0],
      formatter: v => yTicks[v] || ''}},
  series: [
    {type: 'map', geoIndex: 0, data: kartenDaten, silent: true},
    {type: 'lines', coordinateSystem: 'geo', polyline: true, silent: true, z: 4,
      data: landesgrenzen.map(l => ({coords: punkte(l)})),
      lineStyle: {color: '#141a2c', width: 1.1, opacity: 0.9}},
    {type: 'scatter', coordinateSystem: 'geo', silent: true, z: 6, symbolSize: 11, itemStyle: {color: '#fff', opacity: 1},
      data: staedte.map((n, i) => ({name: n, value: [staedteLon[i], staedteLat[i]], label: {offset: labelVersatz[i]}})),
      label: {show: true, position: 'inside', formatter: '{b}', color: '#fff', fontWeight: 600, fontSize: 16.2, fontFamily: SCHRIFT, align: 'center', verticalAlign: 'middle'}},
    linie('Ziel', jahreZiel, werteZiel.map(v => v * 1e6), klassenFarben[2], 2),
    linie('Ist', jahreIst, werteIst.map(v => v * 1e6), klassenFarben[4], 3),
    linie('Prognose', jahrePrognose, wertePrognose.map(v => v * 1e6), klassenFarben[0], 3),
    {type: 'scatter', silent: true, z: 5, symbolSize: 2, clip: false,
      data: [
        Object.assign(pille([2025.15, 1920000], klassenFarben[4]), {name: '1,9 Mio.'}),
        Object.assign(pille([2031, 4410000], klassenFarben[0]), {name: '4,4 Mio.'}),
        Object.assign(pille([2031, 15000000], klassenFarben[2]), {name: '15 Mio.'})
      ],
      label: {show: true, position: 'inside', formatter: '{b}', color: '#fff', fontWeight: 700, fontSize: 14, fontFamily: SCHRIFT, align: 'center', verticalAlign: 'middle', padding: [6, 6, 4, 6], borderRadius: 13}}
  ]
});
</script>
</body>
</html>
